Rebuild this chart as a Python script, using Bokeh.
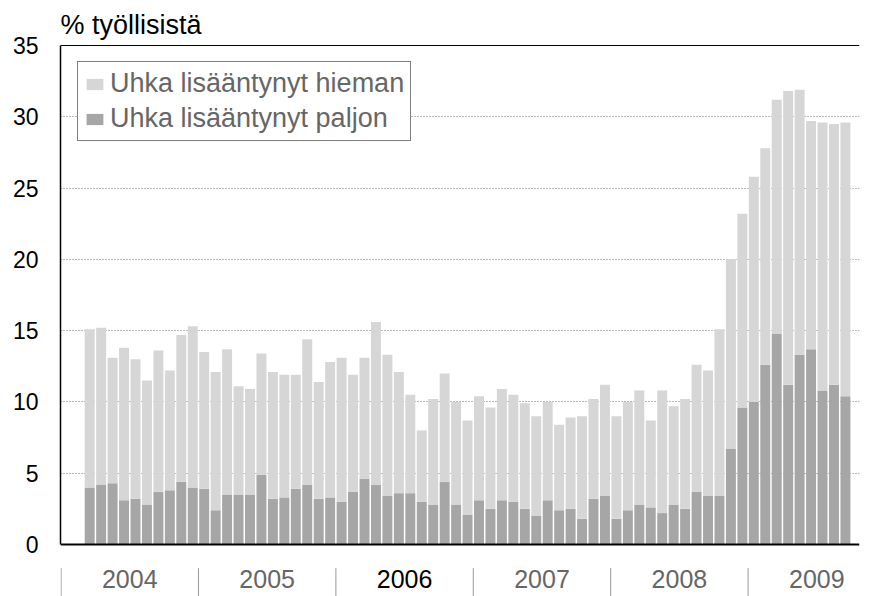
import numpy as np
from bokeh.plotting import figure
from bokeh.models import (Range1d, FixedTicker, Span, Legend, LegendItem,
                          ColumnDataSource)
from bokeh.core.properties import value
from bokeh.embed import file_html
from bokeh.resources import INLINE

# ---- data (monthly, Jan 2004 - Jul 2009), % of employed ----
years = ["2004", "2005", "2006", "2007", "2008", "2009"]
paljon = [4.0, 4.2, 4.3, 3.1, 3.2, 2.8, 3.7, 3.8, 4.4, 4.0, 3.9, 2.4,
          3.5, 3.5, 3.5, 4.9, 3.2, 3.3, 3.9, 4.2, 3.2, 3.3, 3.0, 3.7,
          4.6, 4.2, 3.4, 3.6, 3.6, 3.0, 2.8, 4.4, 2.8, 2.1, 3.1, 2.5,
          3.1, 3.0, 2.5, 2.0, 3.1, 2.4, 2.5, 1.8, 3.2, 3.4, 1.8, 2.4,
          2.8, 2.6, 2.2, 2.8, 2.5, 3.7, 3.4, 3.4, 6.7, 9.6, 10.0, 12.6,
          14.8, 11.2, 13.3, 13.7, 10.8, 11.2, 10.4]
hieman = [11.1, 11.0, 8.8, 10.7, 9.8, 8.7, 9.9, 8.4, 10.3, 11.3, 9.6, 9.7,
          10.2, 7.6, 7.4, 8.5, 8.9, 8.6, 8.0, 10.2, 8.2, 9.5, 10.1, 8.2,
          8.5, 11.4, 9.9, 8.5, 6.9, 5.0, 7.4, 7.6, 7.2, 6.6, 7.3, 7.1,
          7.8, 7.5, 7.4, 7.0, 6.9, 6.0, 6.4, 7.2, 7.0, 7.8, 7.2, 7.6,
          8.0, 6.1, 8.6, 6.9, 7.7, 8.9, 8.8, 11.7, 13.3, 13.6, 15.8, 15.2,
          16.4, 20.6, 18.6, 16.0, 18.8, 18.3, 19.2]
y_ticks = [0, 5, 10, 15, 20, 25, 30, 35]
grid_ticks = [5, 10, 15, 20, 25, 30]
labels = ["Uhka lisääntynyt hieman", "Uhka lisääntynyt paljon"]

# styles
year_colors = ["#666666", "#666666", "#000000", "#666666", "#666666", "#666666"]
FONT = "Liberation Sans"

month = list(range(len(paljon)))
src = ColumnDataSource(dict(x=month, paljon=paljon, hieman=hieman))

p = figure(width=873, height=596, output_backend="svg", toolbar_location=None,
           x_range=Range1d(-2.55, 67.23), y_range=Range1d(-3.65, 35.07),
           min_border_left=60, min_border_right=14, min_border_top=44,
           min_border_bottom=0)

rs = p.vbar_stack(["paljon", "hieman"], x="x", width=0.87,
                  color=["#a6a6a6", "#d6d6d6"], line_color=None, source=src)

# year row below the axis (separators between years)
sep_x = [-2.5 + 12 * i for i in range(len(years))]
year_x = [3.5 + 12 * i for i in range(len(years))]
p.segment(x0=sep_x, y0=[-1.66] * len(sep_x), x1=sep_x, y1=[-3.8] * len(sep_x),
          line_color="#999999", line_width=1)
p.text(x=year_x, y=[-2.45] * len(years), text=years, text_align="center",
       text_baseline="middle", text_font_size="25px", text_color=year_colors,
       text_font=value(FONT))

# axes, grid
p.xaxis.visible = False
p.xgrid.visible = False
p.ygrid.ticker = FixedTicker(ticks=grid_ticks)
p.ygrid.grid_line_color = "#777777"
p.ygrid.grid_line_dash = "1 2"
p.ygrid.grid_line_width = 1

ya = p.yaxis[0]
ya.ticker = FixedTicker(ticks=y_ticks)
ya.bounds = (0, 35)
ya.major_tick_line_color = None
ya.major_tick_out = 0
ya.major_tick_in = 0
ya.minor_tick_line_color = None
ya.minor_tick_out = 0
ya.axis_line_color = "black"
ya.axis_line_width = 1.5
ya.major_label_text_font_size = "23px"
ya.major_label_text_font = FONT
ya.major_label_text_color = "black"
ya.major_label_standoff = 22

p.add_layout(Span(location=0, dimension="width", line_color="black", line_width=2))
p.add_layout(Span(location=35, dimension="width", line_color="black", line_width=1))

p.outline_line_color = None

p.title.text = "% työllisistä"
p.title.text_font = FONT
p.title.text_font_size = "27px"
p.title.text_font_style = "normal"
p.title.text_color = "black"
p.title.align = "left"
p.title.standoff = 10

legend = Legend(items=[LegendItem(label=labels[0], renderers=[rs[1]]),
                       LegendItem(label=labels[1], renderers=[rs[0]])],
                location="top_left", margin=17, padding=6, spacing=4,
                glyph_width=21, glyph_height=14, label_height=30,
                label_standoff=5, label_text_font_size="27px",
                label_text_font=FONT, label_text_color="#666666",
                border_line_color="black", border_line_width=1,
                background_fill_color="white", background_fill_alpha=1)
p.add_layout(legend)

open("out.html", "w").write(file_html(p, INLINE))
